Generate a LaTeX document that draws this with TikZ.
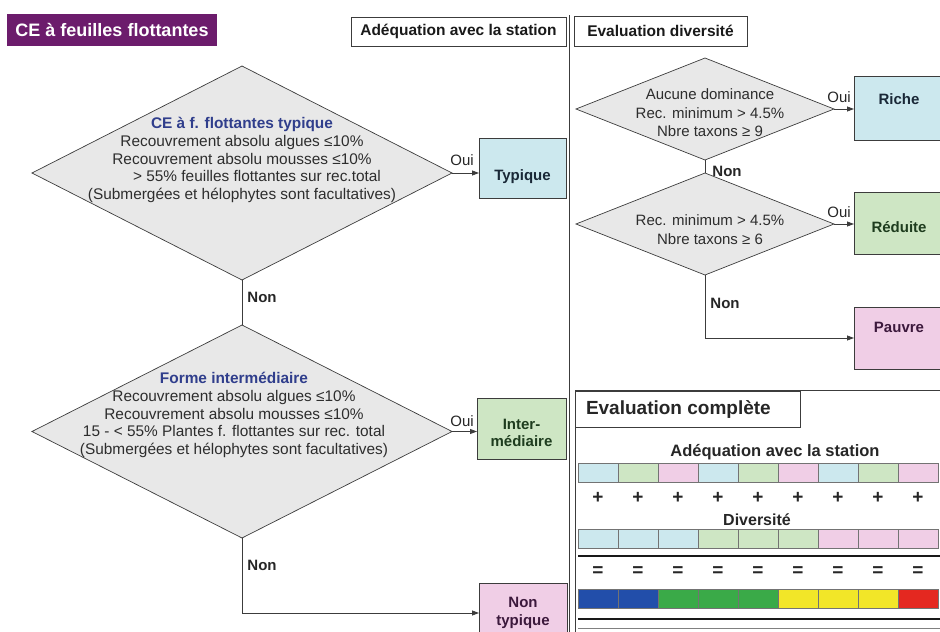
\documentclass[tikz,border=0pt]{standalone}
\usepackage{fontspec}
\setmainfont{Liberation Sans}
\usetikzlibrary{shapes.geometric,arrows.meta}
\definecolor{purp}{RGB}{108,28,108}
\definecolor{diafill}{RGB}{232,232,232}
\definecolor{lblue}{RGB}{204,232,238}
\definecolor{lgreen}{RGB}{206,230,196}
\definecolor{lpink}{RGB}{240,206,230}
\definecolor{ttlblue}{RGB}{48,62,140}
\definecolor{txtgray}{RGB}{45,45,45}
\definecolor{dblue}{RGB}{34,78,170}
\definecolor{dgreen}{RGB}{58,170,72}
\definecolor{dyellow}{RGB}{242,230,40}
\definecolor{dred}{RGB}{228,40,32}
\definecolor{linec}{RGB}{60,60,60}
\definecolor{txtgreen}{RGB}{30,60,30}
\definecolor{txtpurp}{RGB}{60,25,60}
\definecolor{txtnavy}{RGB}{25,40,55}
\begin{document}
\begin{tikzpicture}[x=1pt,y=-1pt,
 every node/.style={font=\fontsize{15}{17.5}\selectfont, inner sep=0pt, outer sep=0pt},
 hdr/.style={draw=linec, line width=0.8pt, font=\bfseries\fontsize{15.5}{18}\selectfont, text=black!90},
 dia/.style={diamond, draw=linec, line width=0.7pt, fill=diafill},
 diatext/.style={align=center, text=txtgray},
 res/.style={draw=linec, line width=0.8pt, font=\bfseries\fontsize{15}{18}\selectfont, align=center},
 conn/.style={draw=linec, line width=0.8pt},
 arr/.style={conn, -{Triangle[length=7pt,width=5pt]}},
 yes/.style={font=\fontsize{15}{18}\selectfont, text=black!85},
 no/.style={font=\bfseries\fontsize{15}{18}\selectfont, text=black!85},
 cell/.style={draw=black!55, line width=0.6pt, minimum width=40pt, minimum height=19pt},
 sym/.style={font=\bfseries\fontsize{19}{20}\selectfont, text=black!85},
]
\useasboundingbox (0,0) rectangle (940,632);

% headers
\node[fill=purp, minimum width=210pt, minimum height=32pt, text=white, font=\bfseries\fontsize{18}{20}\selectfont] (title) at (112,30) {CE à feuilles flottantes};
\node[hdr, minimum width=215pt, minimum height=29pt] (hadq) at (458.5,31.5) {Adéquation avec la station};
\node[hdr, minimum width=173pt, minimum height=30pt] (hdiv) at (660.5,31) {Evaluation diversité};

% separator
\coordinate (septop) at (569,15);
\coordinate (sepbot) at (569,632);
\draw[conn] (septop) -- (sepbot);

% left flow
\node[dia, minimum width=420pt, minimum height=214pt] (d1) at (242,173) {};
\node[diatext, font=\fontsize{15.4}{17.6}\selectfont] (t1) at (242,160) {\textcolor{ttlblue}{\bfseries CE à f. flottantes typique}\\
Recouvrement absolu algues ≤10\%\\
Recouvrement absolu mousses ≤10\%\\
\hspace*{30pt}> 55\% feuilles flottantes sur rec.total\\
(Submergées et hélophytes sont facultatives)};
\node[res, fill=lblue, text=txtnavy, minimum width=87pt, minimum height=60pt] (typ) at (522.5,168) {\raisebox{-12pt}[0pt][0pt]{Typique}};
\draw[arr] (d1.east) -- (d1.east -| typ.west);
\node[yes] (oui1) at (462,160) {Oui};

\node[dia, minimum width=420pt, minimum height=213pt] (d2) at (242,431.5) {};
\draw[conn] (d1.south) -- (d2.north);
\node[no] (non1) at (262,297) {Non};
\node[diatext, font=\fontsize{15.4}{17.8}\selectfont] (t2) at (234,415) {\textcolor{ttlblue}{\bfseries Forme intermédiaire}\\
Recouvrement absolu algues ≤10\%\\
Recouvrement absolu mousses ≤10\%\\
15 - < 55\% Plantes f. flottantes sur rec. total\\
(Submergées et hélophytes sont facultatives)};
\node[res, fill=lgreen, text=txtgreen, minimum width=89pt, minimum height=61pt] (inter) at (521.5,428.5) {\raisebox{-9pt}[0pt][0pt]{\begin{tabular}{@{}c@{}}Inter-\\[-1pt]médiaire\end{tabular}}};
\draw[arr] (d2.east) -- (d2.east -| inter.west);
\node[yes] (oui2) at (462,421) {Oui};

\node[res, fill=lpink, text=txtpurp, minimum width=88pt, minimum height=60pt] (nontyp) at (523,613) {Non\\typique};
\draw[arr] (d2.south) |- (nontyp.west);
\node[no] (non2) at (262,565) {Non};

% right flow
\node[dia, minimum width=258pt, minimum height=102pt] (d3) at (705,109) {};
\node[diatext, font=\fontsize{15}{18.5}\selectfont] (t3) at (710,113) {Aucune dominance\\Rec. minimum > 4.5\%\\Nbre taxons ≥ 9};
\node[res, fill=lblue, text=txtnavy, minimum width=90pt, minimum height=64pt] (riche) at (899,108) {\raisebox{4pt}[0pt][0pt]{Riche}};
\draw[arr] (d3.east) -- (d3.east -| riche.west);
\node[yes] (oui3) at (839,97) {Oui};

\node[dia, minimum width=258pt, minimum height=102pt] (d4) at (705,224) {};
\draw[conn] (d3.south) -- (d4.north);
\node[no] (non3) at (727,171) {Non};
\node[diatext, font=\fontsize{15}{19}\selectfont] (t4) at (710,230) {Rec. minimum > 4.5\%\\Nbre taxons ≥ 6};
\node[res, fill=lgreen, text=txtgreen, minimum width=90pt, minimum height=62pt] (reduite) at (899,223) {\raisebox{-9pt}[0pt][0pt]{Réduite}};
\draw[arr] (d4.east) -- (d4.east -| reduite.west);
\node[yes] (oui4) at (839,212) {Oui};

\node[res, fill=lpink, text=txtpurp, minimum width=90pt, minimum height=62pt] (pauvre) at (899,338) {\raisebox{6pt}[0pt][0pt]{Pauvre}};
\draw[arr] (d4.south) |- (pauvre.west);
\node[no] (non4) at (725,303) {Non};

% evaluation complete
\coordinate (fr1) at (575,632);
\coordinate (fr2) at (575,390);
\coordinate (fr3) at (940,390);
\draw[conn] (fr1) -- (fr2) -- (fr3);
\node[draw=linec, line width=0.8pt, minimum width=225pt, minimum height=36pt, anchor=north west] (evc) at (575,391) {};
\node[anchor=west, font=\bfseries\fontsize{19}{22}\selectfont, text=black!85] (evct) at (586,409) {Evaluation complète};

\node[font=\bfseries\fontsize{16.5}{19}\selectfont, text=black!85] (tadq) at (775,452) {Adéquation avec la station};
\node[font=\bfseries\fontsize{16}{19}\selectfont, text=black!85] (tdiv) at (757,520) {Diversité};

\foreach \col [count=\i] in {lblue,lgreen,lpink,lblue,lgreen,lpink,lblue,lgreen,lpink}
  {\node[cell, fill=\col] (a\i) at ({558+40*\i},472.5) {};}
\foreach \col [count=\i] in {lblue,lblue,lblue,lgreen,lgreen,lgreen,lpink,lpink,lpink}
  {\node[cell, fill=\col] (b\i) at ({558+40*\i},538.5) {};}
\foreach \col [count=\i] in {dblue,dblue,dgreen,dgreen,dgreen,dyellow,dyellow,dyellow,dred}
  {\node[cell, fill=\col] (r\i) at ({558+40*\i},598.5) {};}
\foreach \i in {1,...,9}
  {\node[sym] (p\i) at ({558+40*\i},498) {+};
   \node[sym] (e\i) at ({558+40*\i},572) {=};}

\coordinate (la1) at (578,556);
\coordinate (la2) at (940,556);
\coordinate (lb1) at (578,619);
\coordinate (lb2) at (940,619);
\coordinate (lc1) at (578,628.5);
\coordinate (lc2) at (940,628.5);
\draw[line width=2.5pt, black!90] (la1) -- (la2);
\draw[line width=2.5pt, black!90] (lb1) -- (lb2);
\draw[line width=0.6pt, black!50] (lc1) -- (lc2);
\end{tikzpicture}
\end{document}
